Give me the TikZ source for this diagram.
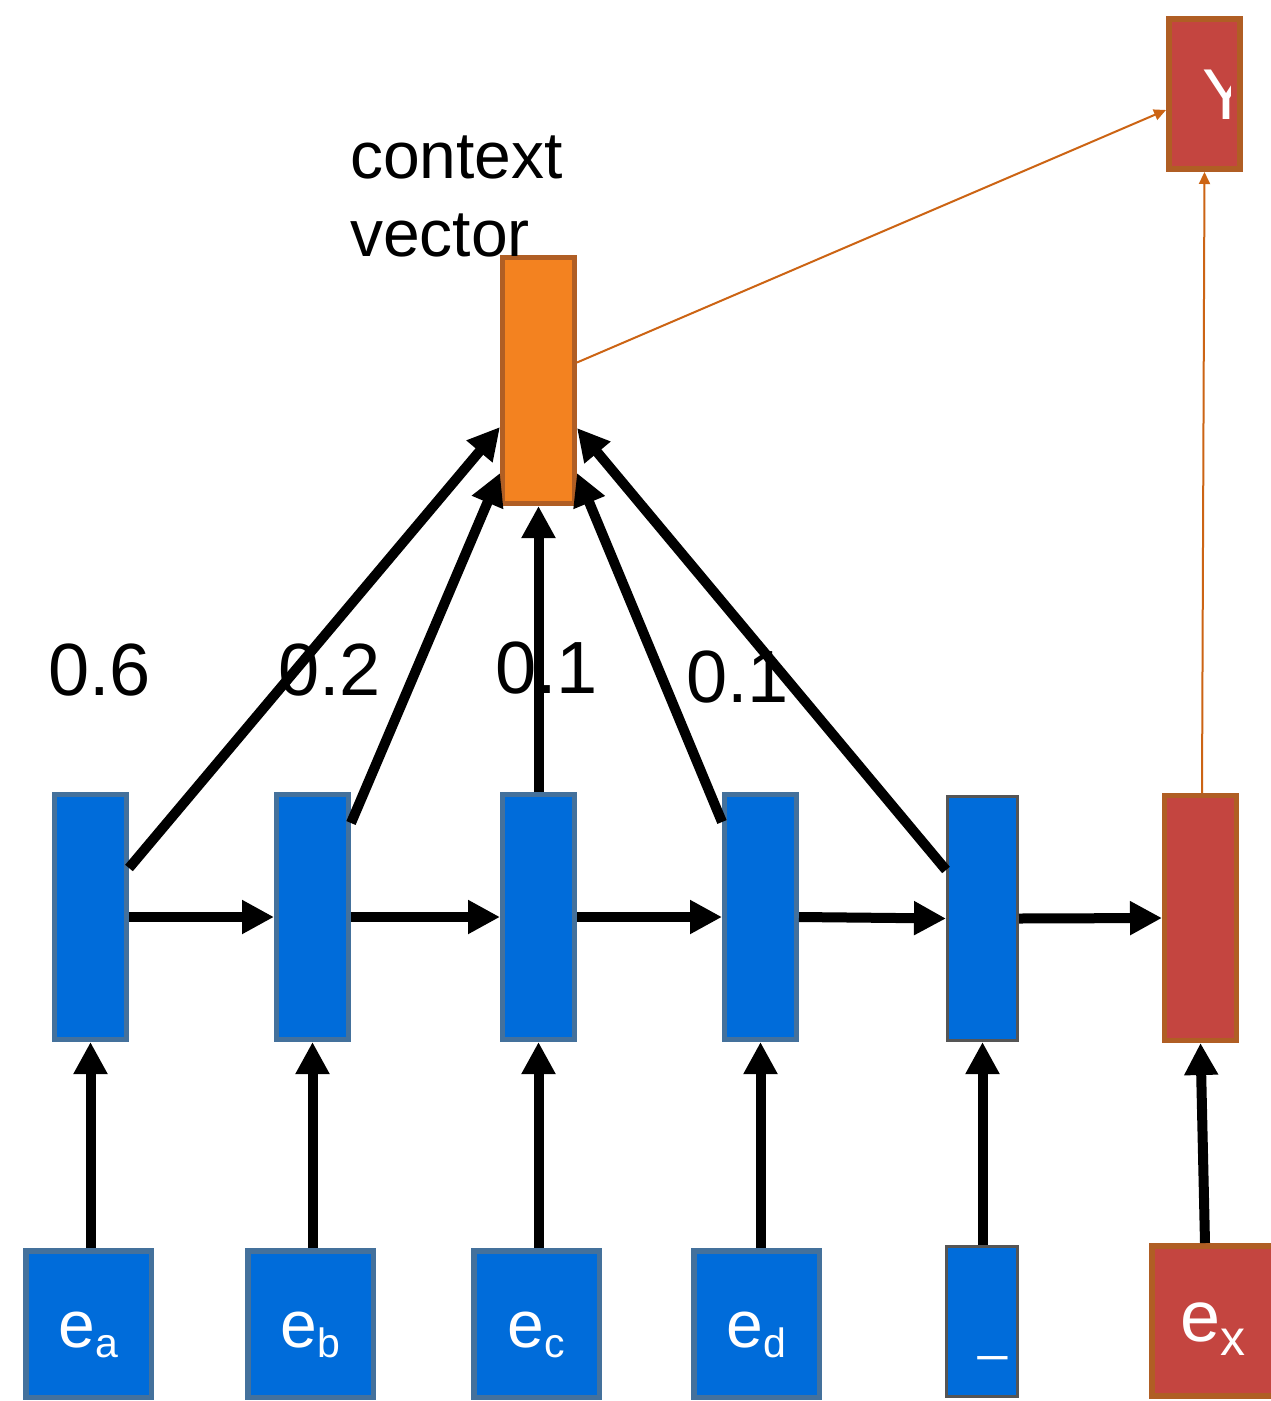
\documentclass[tikz,border=0pt]{standalone}
\usepackage{fontspec}
\setmainfont{Liberation Sans}
\usetikzlibrary{arrows.meta,calc}
\definecolor{bluefill}{RGB}{0,108,218}
\definecolor{blueedge}{RGB}{68,113,156}
\definecolor{grayedge}{RGB}{85,85,85}
\definecolor{orangefill}{RGB}{243,130,32}
\definecolor{brownedge}{RGB}{176,94,36}
\definecolor{redfill}{RGB}{196,69,64}
\definecolor{thinline}{RGB}{204,100,20}
\newcommand\fsz[1]{\fontsize{#1}{#1}\selectfont}
\begin{document}
\begin{tikzpicture}[x=1pt,y=-1pt,
  box/.style={rectangle,inner sep=0pt},
  hid/.style={box,fill=bluefill,draw=blueedge,line width=5pt,minimum width=72pt,minimum height=245pt},
  hidgray/.style={box,fill=bluefill,draw=grayedge,line width=3pt,minimum width=70pt,minimum height=244pt},
  hidred/.style={box,fill=redfill,draw=brownedge,line width=5pt,minimum width=72pt,minimum height=245pt},
  inp/.style={box,fill=bluefill,draw=blueedge,line width=5.5pt,minimum width=125.5pt,minimum height=146.5pt,
    text=white,text height=56pt,text depth=10pt},
  inpgray/.style={box,fill=bluefill,draw=grayedge,line width=3pt,minimum width=71pt,minimum height=150pt,
    text=white,text height=60pt,text depth=5pt},
  inpred/.style={box,fill=redfill,draw=brownedge,line width=6pt,minimum width=122pt,minimum height=150pt,
    text=white,text height=54pt,text depth=14pt},
  ctxbox/.style={box,fill=orangefill,draw=brownedge,line width=5pt,minimum width=72pt,minimum height=246pt},
  outbox/.style={box,fill=redfill,draw=brownedge,line width=6pt,minimum width=71pt,minimum height=150pt},
  wlabel/.style={inner sep=0pt,anchor=base west,font=\fsz{74}},
  thickarrow/.style={line width=10pt,-{Triangle[length=32pt,width=32pt]}},
  thinarrow/.style={draw=thinline,line width=2pt,-{Triangle[length=12pt,width=11pt]}}
]
\useasboundingbox (0,0) rectangle (1271,1401);
\fill[white] (0,0) rectangle (1271,1401);
\clip (0,0) rectangle (1271,1401);

% hidden states
\node[hid] (h1) at (90.5,917) {};
\node[hid] (h2) at (312.5,917) {};
\node[hid] (h3) at (538.5,917) {};
\node[hid] (h4) at (760.5,917) {};
\node[hidgray] (h5) at (982.5,918.5) {};
\node[hidred] (h6) at (1200.5,918) {};

% inputs
\node[inp] (i1) at (88.5,1324) {\fsz{66}e\raisebox{-10pt}{\fsz{41}a}};
\node[inp] (i2) at (310.5,1324) {\fsz{66}e\raisebox{-10pt}{\fsz{41}b}};
\node[inp] (i3) at (536.5,1324) {\fsz{66}e\raisebox{-10pt}{\fsz{41}c}};
\node[inp] (i4) at (756.5,1324) {\fsz{66}e\raisebox{-10pt}{\fsz{41}d}};
\node[inpgray] (i5) at (982,1321.5) {\hspace*{21pt}\fsz{52}\_};
\node[inpred] (ix) at (1213,1321) {\fsz{72}e\raisebox{-14pt}{\fsz{50}x}};

% context vector and output
\node[ctxbox] (ctx) at (538.5,380.5) {};
\node[outbox] (Y) at (1204.5,94) {};
\begin{scope}
  \clip (Y.north west) rectangle ($(Y.south west)+(64,0)$);
  \node[inner sep=0pt,anchor=base,text=white,font=\fsz{72}] (ylab) at (1226,119) {Y};
\end{scope}

% labels
\node[inner sep=0pt,anchor=north west,align=left,font=\fontsize{66}{78}\selectfont] (ctxlab) at (350,136) {context\\vector};
\node[wlabel] (w1) at (48,695) {0.6};
\node[wlabel] (w2) at (278,695) {0.2};
\node[wlabel] (w3) at (495,693) {0.1};
\node[wlabel] (w4) at (686,702) {0.1};

% input arrows
\draw[thickarrow] (h1.south |- i1.north) -- (h1.south);
\draw[thickarrow] (h2.south |- i2.north) -- (h2.south);
\draw[thickarrow] (h3.south |- i3.north) -- (h3.south);
\draw[thickarrow] (h4.south |- i4.north) -- (h4.south);
\draw[thickarrow] (h5.south |- i5.north) -- (h5.south);
\draw[thickarrow] ($(ix.north west)+(56,0)$) -- (h6.south);

% recurrent arrows
\draw[thickarrow] (h1.east) -- (h2.west);
\draw[thickarrow] (h2.east) -- (h3.west);
\draw[thickarrow] (h3.east) -- (h4.west);
\draw[thickarrow] (h4.east) -- (h5.west);
\draw[thickarrow] (h5.east) -- (h6.west);

% attention arrows
\draw[thickarrow] ($(h1.north east)+(0,76)$) -- ($(ctx.south west)+(0,-79)$);
\draw[thickarrow] ($(h2.north east)+(0,31)$) -- ($(ctx.south west)+(0,-33)$);
\draw[thickarrow] (h3.north) -- (ctx.south);
\draw[thickarrow] ($(h4.north west)+(0,30)$) -- ($(ctx.south east)+(0,-33)$);
\draw[thickarrow] ($(h5.north west)+(0,75)$) -- ($(ctx.south east)+(0,-78)$);

% thin arrows
\draw[thinarrow] ($(ctx.east)+(0,-18)$) -- ($(Y.west)+(0,16)$);
\draw[thinarrow] ($(h6.north)+(1.5,0)$) -- (Y.south);
\end{tikzpicture}
\end{document}
